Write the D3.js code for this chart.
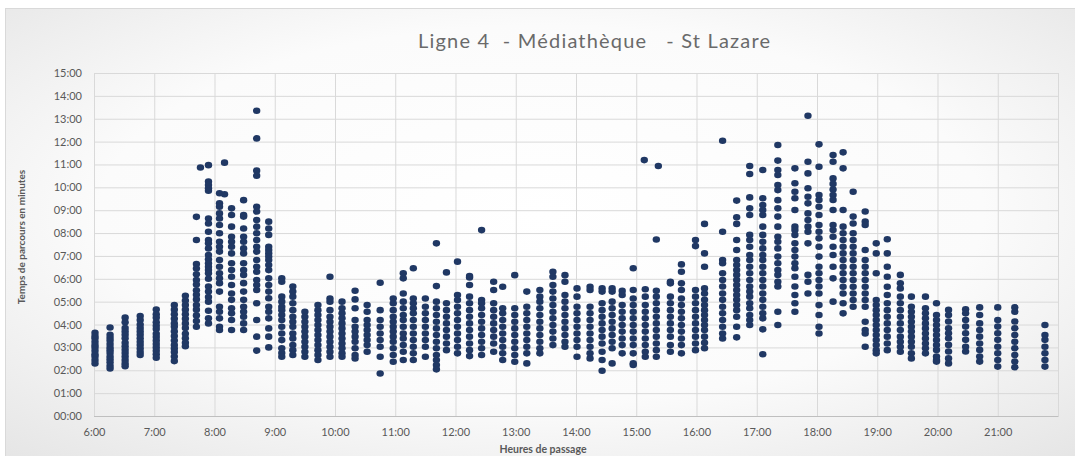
<!DOCTYPE html>
<html><head><meta charset="utf-8">
<script src="https://cdn.jsdelivr.net/npm/d3@7"></script>
<style>
html,body{margin:0;padding:0;background:#fff;}
svg{display:block;}
text{font-family:Lato,"Open Sans","Liberation Sans",sans-serif;}
</style></head>
<body>
<svg id="chart" width="1075" height="456"></svg>
<script>
// ---- DATA ----
const title = "Ligne 4  - Médiathèque   - St Lazare";
const xTitle = "Heures de passage";
const yTitle = "Temps de parcours en minutes";
const xTickHours = [6,7,8,9,10,11,12,13,14,15,16,17,18,19,20,21];
const yTickMinutes = [0,1,2,3,4,5,6,7,8,9,10,11,12,13,14,15];

// departure times (one column of trips each) and travel times in minutes
const departures = [
 "6:01","6:16","6:31","6:46","7:02","7:20","7:31","7:42","7:46","7:54",
 "8:05","8:10","8:17","8:29","8:42","8:54","9:07","9:18","9:30","9:43",
 "9:55","10:07","10:20","10:32","10:45","10:58","11:08","11:18","11:30","11:41",
 "11:51","12:02","12:14","12:26","12:38","12:47","12:59","13:11","13:24","13:37",
 "13:49","14:01","14:14","14:26","14:36","14:46","14:57","15:08","15:09","15:20",
 "15:22","15:34","15:45","15:59","16:08","16:26","16:40","16:53","17:06","17:21",
 "17:38","17:51","18:02","18:16","18:26","18:36","18:48","18:59","19:10","19:23",
 "19:34","19:48","19:59","20:11","20:28","20:42","21:00","21:17","21:47"
];
const travelTimes = [
 [3.64,3.5,3.4,3.25,3.1,3.0,2.85,2.7,2.6,2.45,2.3],
 [3.87,3.55,3.42,3.3,3.15,3.0,2.88,2.75,2.6,2.48,2.35,2.2,2.08],
 [4.3,4.1,3.85,3.7,3.55,3.4,3.2,3.05,2.9,2.75,2.6,2.45,2.3,2.18],
 [4.37,4.2,4.0,3.85,3.7,3.55,3.4,3.25,3.1,2.95,2.8,2.67],
 [4.66,4.45,4.3,4.1,3.95,3.8,3.6,3.45,3.3,3.15,3.0,2.85,2.7,2.55],
 [4.85,4.65,4.45,4.25,4.05,3.9,3.7,3.5,3.3,3.1,2.95,2.8,2.6,2.4],
 [5.26,5.05,4.85,4.65,4.45,4.25,4.05,3.85,3.6,3.4,3.2,3.05],
 [8.71,7.7,6.65,6.45,6.2,5.95,5.75,5.5,5.3,5.1,4.85,4.65,4.4,4.15,3.9],
 [10.87],
 [10.97,10.25,10.1,9.96,9.85,8.64,8.42,8.06,7.7,7.55,7.33,7.04,6.85,6.68,6.53,6.38,6.24,6.0,5.66,5.44,5.2,5.0,4.6,4.27,4.05],
 [9.74,9.3,9.15,8.86,8.64,8.35,7.99,7.62,7.4,7.19,6.82,6.53,6.24,6.02,5.81,5.44,4.78,4.56,4.27,3.9,3.76],
 [11.08,9.7],
 [9.08,8.79,8.28,7.84,7.62,7.4,7.11,6.68,6.38,6.09,5.73,5.36,5.08,4.71,4.49,4.2,3.76],
 [9.44,8.79,8.72,8.2,7.84,7.62,7.33,7.11,6.68,6.38,6.17,5.81,5.44,5.08,4.78,4.56,4.34,4.05,3.76],
 [13.35,12.14,10.73,10.51,9.15,8.94,8.57,8.28,7.99,7.7,7.4,7.19,6.82,6.53,6.31,5.95,5.73,5.51,4.93,4.2,3.47,2.86],
 [8.5,8.2,7.92,7.4,7.26,7.11,6.97,6.82,6.6,6.38,6.02,5.73,5.44,5.15,4.78,4.56,4.27,3.83,3.47,3.0],
 [6.02,5.87,5.22,5.0,4.78,4.63,4.42,4.2,3.9,3.61,3.32,2.96,2.75,2.59],
 [5.66,5.44,5.22,4.93,4.63,4.34,4.12,3.9,3.61,3.39,3.1,2.88,2.67],
 [4.56,4.34,4.12,3.9,3.69,3.47,3.25,3.03,2.81,2.59],
 [4.85,4.63,4.42,4.2,3.98,3.76,3.54,3.32,3.1,2.88,2.67,2.45],
 [6.09,5.14,5.0,4.63,4.34,4.12,3.9,3.69,3.47,3.25,3.03,2.81,2.59],
 [5.0,4.71,4.49,4.27,4.05,3.83,3.61,3.39,3.17,2.96,2.74,2.59],
 [5.48,5.1,4.71,4.2,3.9,3.69,3.47,3.25,2.96,2.67,2.52],
 [4.85,4.56,4.2,3.98,3.76,3.54,3.32,3.1,2.81],
 [5.83,4.63,4.2,3.9,3.61,3.32,3.03,2.59,1.86],
 [5.14,4.93,4.63,4.34,4.12,3.9,3.69,3.47,3.25,2.96,2.67,2.37],
 [6.24,6.02,5.36,5.0,4.71,4.42,4.2,3.9,3.61,3.39,3.1,2.81,2.45],
 [6.46,5.14,4.93,4.71,4.49,4.2,3.9,3.61,3.32,3.03,2.74,2.45],
 [5.14,4.78,4.49,4.2,3.9,3.61,3.32,3.03,2.59],
 [7.55,5.68,5.0,4.71,4.42,4.12,3.83,3.54,3.25,2.96,2.67,2.45,2.23,2.04],
 [6.28,4.93,4.63,4.34,4.05,3.76,3.47,3.17,2.88],
 [6.75,5.29,5.07,4.78,4.49,4.2,3.9,3.61,3.32,3.03,2.74],
 [6.12,6.06,5.73,5.22,4.93,4.63,4.34,4.05,3.76,3.47,3.17,2.88,2.62],
 [8.13,5.07,4.93,4.71,4.42,4.12,3.83,3.54,3.25,2.96,2.67],
 [5.87,5.51,4.93,4.63,4.34,4.05,3.76,3.47,3.17,2.81],
 [5.65,4.71,4.49,4.2,3.9,3.61,3.32,3.03,2.74,2.45],
 [6.16,4.71,4.42,4.12,3.83,3.54,3.25,2.96,2.67,2.37],
 [5.44,4.78,4.49,4.2,3.9,3.61,3.32,3.03,2.74,2.3],
 [5.51,5.22,5.0,4.71,4.42,4.12,3.83,3.54,3.25,2.96,2.74],
 [6.31,6.09,5.73,5.44,5.14,4.85,4.56,4.27,3.98,3.69,3.39,3.1],
 [6.16,5.87,5.29,5.0,4.71,4.42,4.12,3.83,3.54,3.25,3.03],
 [5.58,5.22,4.78,4.49,4.2,3.9,3.61,3.32,3.03,2.59],
 [5.65,5.51,4.78,4.49,4.2,3.9,3.61,3.32,3.03,2.74,2.52],
 [5.58,5.44,4.93,4.63,4.34,4.05,3.76,3.47,3.17,2.81,2.45,1.98],
 [5.58,5.44,5.0,4.71,4.42,4.12,3.83,3.54,3.25,2.96,2.3],
 [5.47,5.29,4.85,4.56,4.27,3.98,3.69,3.39,3.1,2.74],
 [6.46,5.51,5.14,4.85,4.56,4.27,3.98,3.69,3.39,3.1,2.74,2.3,2.23],
 [11.19],
 [5.54,5.22,4.85,4.56,4.27,3.98,3.69,3.39,3.1,2.81,2.59],
 [7.72,5.48,5.22,4.93,4.63,4.34,4.05,3.76,3.47,3.17,2.88,2.59],
 [10.93],
 [5.87,5.8,5.22,4.93,4.63,4.34,4.05,3.76,3.47,3.1,2.81],
 [6.63,6.31,5.8,5.51,5.14,4.85,4.56,4.27,3.98,3.69,3.39,3.1,2.74],
 [7.7,7.43,5.51,5.22,4.93,4.63,4.34,4.05,3.76,3.47,3.17,2.88],
 [8.4,7.11,6.53,5.58,5.36,5.08,4.85,4.63,4.42,4.2,3.98,3.76,3.47,3.2,2.96],
 [12.04,8.06,6.82,6.68,6.24,5.95,5.66,5.36,5.08,4.78,4.49,4.2,3.9,3.61,3.39],
 [9.42,8.69,8.4,7.7,7.26,6.82,6.6,6.38,6.17,5.95,5.73,5.51,5.29,5.08,4.85,4.63,4.34,3.9,3.44],
 [10.93,10.58,9.56,9.08,8.79,7.92,7.7,7.4,7.04,6.82,6.53,6.24,5.95,5.66,5.44,5.22,4.93,4.71,4.42,4.2,3.98],
 [10.76,9.52,9.23,9.01,8.79,8.28,7.92,7.62,7.33,7.04,6.82,6.53,6.24,5.95,5.66,5.36,5.08,4.78,4.49,4.27,3.79,2.7],
 [11.85,11.17,10.76,10.54,10.1,9.88,9.44,9.08,8.72,8.28,7.84,7.62,7.33,6.97,6.68,6.38,6.17,5.87,5.66,4.56,3.98],
 [10.83,10.18,9.81,9.52,9.01,8.28,8.13,7.92,7.55,7.26,6.97,6.68,6.46,6.09,5.66,5.29,4.93,4.56],
 [13.13,11.12,10.61,9.96,9.59,9.3,8.86,8.57,8.28,8.06,7.55,6.17,5.87,5.36],
 [11.88,10.9,9.66,9.45,9.15,8.79,8.35,8.06,7.77,7.4,6.97,6.53,6.24,5.95,5.66,5.36,4.85,4.42,3.9,3.61],
 [11.41,11.12,10.39,10.15,9.9,9.66,9.45,9.01,8.35,8.13,7.84,7.4,7.04,6.53,6.02,5.0],
 [11.53,10.83,9.01,8.28,7.99,7.7,7.4,7.11,6.82,6.53,6.24,5.95,5.65,5.36,4.93,4.49],
 [9.81,8.72,8.42,7.99,7.7,7.4,7.11,6.82,6.53,6.24,5.95,5.65,5.36,5.07,4.78],
 [8.94,8.5,8.35,7.26,6.82,6.53,6.24,5.95,5.65,5.36,5.07,4.78,4.12,3.76,3.61,3.03],
 [7.55,7.11,6.24,5.07,4.85,4.63,4.42,4.2,3.98,3.76,3.54,3.32,3.1,2.88,2.74],
 [7.73,7.11,6.53,6.09,5.65,5.29,4.93,4.63,4.34,4.05,3.76,3.47,3.17,2.88],
 [6.17,5.8,5.58,5.22,4.93,4.63,4.34,4.05,3.76,3.47,3.25,3.03,2.81],
 [5.22,4.78,4.56,4.34,4.12,3.9,3.69,3.47,3.25,3.03,2.74,2.52],
 [5.22,4.71,4.49,4.27,4.05,3.83,3.61,3.39,3.17,2.96,2.74],
 [4.93,4.42,4.2,3.98,3.76,3.54,3.32,3.1,2.89,2.6,2.45,2.38],
 [4.64,4.42,4.13,3.84,3.62,3.4,3.11,2.82,2.52,2.3],
 [4.67,4.49,4.2,3.91,3.62,3.33,3.03,2.82],
 [4.75,4.42,4.05,3.76,3.47,3.17,2.89,2.6,2.38],
 [4.75,4.2,3.91,3.62,3.33,3.03,2.74,2.45,2.16],
 [4.75,4.56,4.13,3.84,3.54,3.25,2.96,2.67,2.38,2.13],
 [3.98,3.54,3.33,3.03,2.74,2.45,2.16]
];

// ---- CHART ----
const W = 1075, H = 456;
const m = {left:94, right:1075-1058, top:73, bottom:456-416};
const svg = d3.select("#chart");

const defs = svg.append("defs");
const grad = defs.append("radialGradient").attr("id","bg")
  .attr("cx","50%").attr("cy","45%").attr("r","75%");
grad.append("stop").attr("offset","0%").attr("stop-color","#ffffff");
grad.append("stop").attr("offset","55%").attr("stop-color","#fbfbfb");
grad.append("stop").attr("offset","100%").attr("stop-color","#e4e4e4");

svg.append("rect").attr("x",5.5).attr("y",8.5).attr("width",W-4).attr("height",H)
  .attr("fill","url(#bg)").attr("stroke","#d9d9d9");

const toMin = s => { const [h,mm] = s.split(":").map(Number); return h*60+mm; };
const x = d3.scaleLinear().domain([6*60, 22*60]).range([m.left, W-m.right]);
const y = d3.scaleLinear().domain([0, 15]).range([H-m.bottom, m.top]);

// gridlines
const gx = svg.append("g").attr("transform",`translate(0,${H-m.bottom})`)
  .call(d3.axisBottom(x).tickValues(xTickHours.concat([22]).map(h=>h*60)).tickSize(-(H-m.bottom-m.top)).tickFormat(""));
gx.selectAll("line").attr("stroke","#d9d9d9");
gx.select(".domain").remove();
const gy = svg.append("g").attr("transform",`translate(${m.left},0)`)
  .call(d3.axisLeft(y).tickValues(yTickMinutes).tickSize(-(W-m.right-m.left)).tickFormat(""));
gy.selectAll("line").attr("stroke","#d9d9d9");
gy.select(".domain").remove();

// axis labels
const xa = svg.append("g").attr("transform",`translate(0,${H-m.bottom})`)
  .call(d3.axisBottom(x).tickValues(xTickHours.map(h=>h*60)).tickSize(0).tickPadding(12)
    .tickFormat(v => `${Math.floor(v/60)}:00`));
xa.select(".domain").attr("stroke","#bfbfbf");
xa.selectAll("text").attr("fill","#595959").attr("font-size","11px");
svg.append("line").attr("x1",m.left).attr("x2",W-m.right).attr("y1",H-m.bottom+0.5).attr("y2",H-m.bottom+0.5).attr("stroke","#bfbfbf");

const ya = svg.append("g").attr("transform",`translate(${m.left},0)`)
  .call(d3.axisLeft(y).tickValues(yTickMinutes).tickSize(0).tickPadding(12)
    .tickFormat(v => String(v).padStart(2,"0")+":00"));
ya.select(".domain").remove();
ya.selectAll("text").attr("fill","#595959").attr("font-size","11px");

// points
const pts = [];
departures.forEach((d,i) => travelTimes[i].forEach(v => pts.push({t:toMin(d), v})));
svg.append("g").selectAll("ellipse").data(pts).join("ellipse")
  .attr("cx", d => x(d.t)).attr("cy", d => y(d.v)).attr("rx", 3.7).attr("ry", 3.3)
  .attr("fill", "#203864");

// titles
svg.append("text").attr("x",594).attr("y",48).attr("text-anchor","middle")
  .attr("font-family","'Open Sans',Lato,sans-serif")
  .attr("font-size","20px").attr("fill","#6a6a6a").style("white-space","pre")
  .attr("textLength",352).attr("lengthAdjust","spacing").text(title);
svg.append("text").attr("x",543).attr("y",453).attr("text-anchor","middle")
  .attr("font-size","10.5px").attr("font-weight","bold").attr("fill","#595959").text(xTitle);
svg.append("text").attr("transform","translate(25,237) rotate(-90)").attr("text-anchor","middle")
  .attr("font-size","10px").attr("font-weight","bold").attr("fill","#595959").text(yTitle);
</script>
</body></html>
